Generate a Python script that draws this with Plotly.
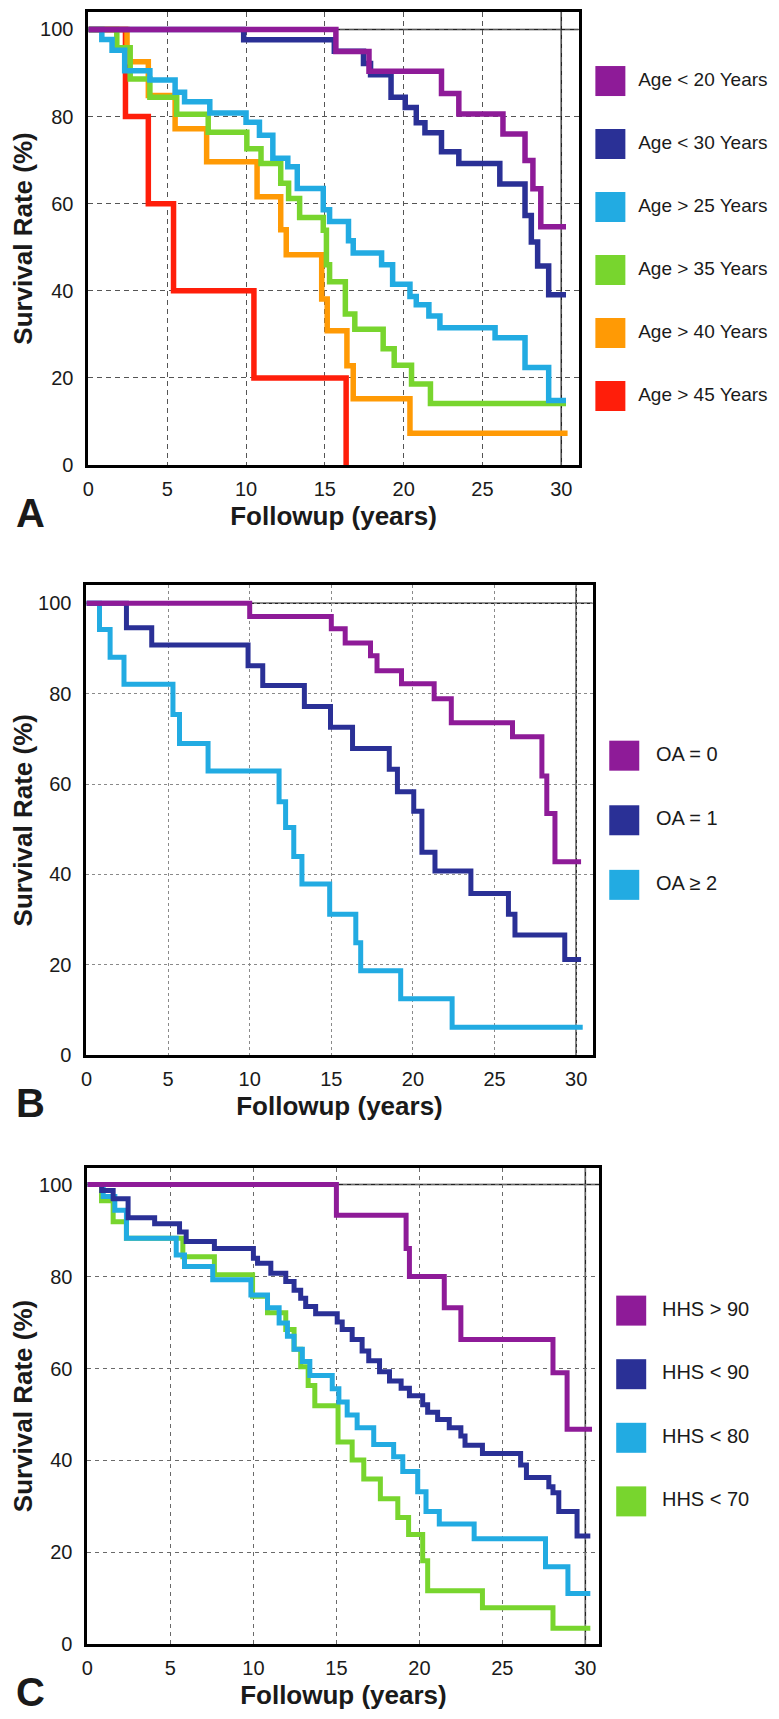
import plotly.graph_objects as go

W, H = 779, 1719
FONT = "Liberation Sans, Arial, sans-serif"
INK = "#1a1a1a"

# ---------------- data: panel A (age groups) ----------------
AGE_LABELS = ["Age < 20 Years", "Age < 30 Years", "Age > 25 Years",
              "Age > 35 Years", "Age > 40 Years", "Age > 45 Years"]

AGE_LT20_T = [0, 15.7, 17.8, 22.4, 23.5, 26.3, 27.7, 28.2, 28.7, 30.3]
AGE_LT20_S = [100, 94.9, 90.4, 85.3, 80.6, 76.0, 69.9, 63.4, 54.7, 54.7]

AGE_LT30_T = [0, 9.85, 15.6, 17.45, 17.9, 19.2, 20.1, 20.8, 21.35, 22.4,
              23.5, 26.1, 27.7, 28.1, 28.5, 29.2, 30.3]
AGE_LT30_S = [100, 97.6, 95.0, 92.2, 89.6, 84.4, 82.1, 78.6, 76.3, 71.9,
              69.2, 64.5, 57.3, 51.2, 45.7, 39.1, 39.1]

AGE_GT25_T = [0, 0.85, 1.5, 2.3, 3.9, 5.5, 6.1, 7.7, 10.0, 10.85, 11.7,
              12.65, 13.25, 14.9, 15.3, 16.5, 16.8, 18.6, 19.3, 20.4, 20.8,
              21.6, 22.3, 25.8, 27.7, 29.2, 30.3]
AGE_GT25_S = [100, 97.7, 95.2, 90.5, 88.4, 85.6, 83.4, 80.8, 78.7, 75.7, 70.4,
              68.5, 63.5, 58.6, 55.9, 51.5, 48.7, 46.0, 41.5, 38.7, 36.8,
              34.2, 31.5, 29.2, 22.4, 14.8, 14.8]

AGE_GT35_T = [0, 1.8, 2.65, 3.9, 5.6, 7.6, 10.05, 10.95, 12.2, 12.7, 13.4,
              14.9, 15.1, 15.3, 16.3, 16.9, 18.7, 19.4, 20.5, 21.7, 30.3]
AGE_GT35_S = [100, 95.8, 88.6, 84.4, 80.5, 76.4, 72.6, 69.2, 64.7, 61.2, 56.8,
              53.9, 46.0, 42.1, 34.7, 31.2, 26.7, 22.9, 18.6, 14.1, 14.1]

AGE_GT40_T = [0, 2.45, 3.8, 5.5, 7.5, 10.7, 12.2, 12.55, 14.8, 15.15, 16.4,
              16.8, 20.4, 30.4]
AGE_GT40_S = [100, 92.6, 84.8, 77.2, 69.6, 61.6, 54.0, 48.3, 38.1, 30.8, 22.8,
              15.2, 7.3, 7.3]

AGE_GT45_T = [0, 2.35, 3.8, 5.4, 10.5, 16.35]
AGE_GT45_S = [100, 80, 60, 40, 20, 0]

# ---------------- data: panel B (OA) ----------------
OA_LABELS = ["OA = 0", "OA = 1", "OA \u2265 2"]

OA0_T = [0, 10.0, 15.0, 15.85, 17.4, 17.8, 19.3, 21.3, 22.35, 26.1, 27.9,
         28.2, 28.7, 30.3]
OA0_S = [100, 97.1, 94.4, 91.2, 88.4, 85.1, 82.2, 78.9, 73.6, 70.5, 61.8,
         53.5, 42.8, 42.8]

OA1_T = [0, 2.45, 4.0, 9.9, 10.8, 13.35, 14.95, 16.3, 18.55, 19.05, 20.05,
         20.55, 21.35, 23.55, 25.85, 26.25, 29.3, 30.3]
OA1_S = [100, 94.6, 90.8, 86.2, 81.8, 77.2, 72.6, 67.9, 63.3, 58.3, 54.0,
         44.9, 40.8, 35.8, 31.2, 26.6, 21.2, 21.2]

OA2_T = [0, 0.8, 1.45, 2.3, 5.3, 5.7, 7.45, 11.8, 12.2, 12.7, 13.2, 14.9,
         16.5, 16.8, 19.25, 22.4, 30.4]
OA2_S = [100, 94.2, 88.1, 82.1, 75.4, 69.0, 62.9, 56.1, 50.4, 44.0, 37.9, 31.2,
         24.9, 18.7, 12.5, 6.2, 6.2]

# ---------------- data: panel C (HHS) ----------------
HHS_LABELS = ["HHS > 90", "HHS < 90", "HHS < 80", "HHS < 70"]

HHS_GT90_T = [0, 15.0, 19.2, 19.4, 21.5, 22.5, 28.05, 28.9, 30.4]
HHS_GT90_S = [100, 93.3, 86.1, 80.0, 73.2, 66.3, 59.1, 46.8, 46.8]

HHS_LT90_T = [0, 0.86, 1.55, 2.45, 4.05, 5.55, 5.95, 7.65, 10.0, 10.25, 11.05,
              11.95, 12.45, 12.85, 13.15, 13.75, 15.05, 15.35, 15.95, 16.55,
              16.95, 17.6, 18.2, 18.9, 19.4, 20.2, 20.5, 21.1, 21.8, 22.5,
              22.75, 23.8, 26.1, 26.45, 27.8, 28.05, 28.4, 29.5, 30.3]
HHS_LT90_S = [100, 98.7, 96.9, 92.8, 91.5, 89.7, 87.6, 86.1, 84.0, 82.9, 80.7,
              78.9, 77.0, 75.3, 73.5, 71.9, 70.1, 68.5, 66.3, 63.8,
              61.7, 59.3, 57.3, 55.7, 54.1, 52.1, 50.5, 48.9, 47.1, 45.3,
              43.3, 41.5, 39.0, 36.3, 34.3, 33.0, 28.9, 23.6, 23.6]

HHS_LT80_T = [0, 0.95, 1.65, 2.35, 5.35, 5.85, 7.55, 9.85, 10.85, 11.55, 12.05,
              12.45, 12.95, 13.4, 14.75, 15.15, 15.65, 16.25, 17.25, 18.45,
              19.0, 19.9, 20.4, 21.2, 23.3, 27.6, 28.95, 30.3]
HHS_LT80_S = [100, 97.4, 94.4, 88.3, 84.7, 82.2, 79.3, 76.0, 73.2, 69.9, 67.0,
              64.2, 61.5, 58.5, 55.6, 52.7, 49.9, 47.1, 43.5, 40.8,
              37.6, 33.2, 28.9, 26.2, 23.0, 16.9, 11.1, 11.1]

HHS_LT70_T = [0, 0.85, 1.55, 2.35, 5.75, 7.65, 9.95, 10.85, 11.95, 12.45,
              12.85, 13.3, 13.7, 15.1, 15.95, 16.65, 17.65, 18.7, 19.35, 20.2,
              20.5, 23.8, 28.05, 30.3]
HHS_LT70_S = [100, 96.5, 91.9, 88.3, 84.3, 80.4, 75.7, 72.1, 68.5, 64.2,
              60.4, 56.3, 51.9, 44.0, 40.1, 36.0, 31.7, 27.6, 23.9, 18.2,
              11.7, 8.0, 3.5, 3.5]

X_TICKS = [0, 5, 10, 15, 20, 25, 30]
Y_TICKS = [0, 20, 40, 60, 80, 100]
REF_YEAR = 30
REF_RATE = 100

PURPLE, NAVY, CYAN, GREEN, ORANGE, RED = (
    "#8e1b98", "#2a3096", "#22abe2", "#78d52e", "#ff9a05", "#ff1e0a")

# panel layout in pixels: plot box (left, right, top, bottom), axis maxima,
# legend square left / text left / item spacing, line width, grid style
PANELS = [
    dict(letter="A", box=(75, 569, 4, 460), xmax=31.1, ymax=104,
         series=[(AGE_LT20_T, AGE_LT20_S), (AGE_LT30_T, AGE_LT30_S),
                 (AGE_GT25_T, AGE_GT25_S), (AGE_GT35_T, AGE_GT35_S),
                 (AGE_GT40_T, AGE_GT40_S), (AGE_GT45_T, AGE_GT45_S)],
         labels=AGE_LABELS, colors=[PURPLE, NAVY, CYAN, GREEN, ORANGE, RED],
         sq_left=586, txt_left=629, step=63.4, lsize=19, lw=5.5,
         grid=("#555555", "5px,4px")),
    dict(letter="B", box=(73, 583, 581, 1054), xmax=31.0, ymax=104,
         series=[(OA0_T, OA0_S), (OA1_T, OA1_S), (OA2_T, OA2_S)],
         labels=OA_LABELS, colors=[PURPLE, NAVY, CYAN],
         sq_left=600, txt_left=647, step=65, lsize=20, lw=5,
         grid=("#8a8a8a", "3px,3px")),
    dict(letter="C", box=(74, 590, 1167, 1647), xmax=30.85, ymax=103.7,
         series=[(HHS_GT90_T, HHS_GT90_S), (HHS_LT90_T, HHS_LT90_S),
                 (HHS_LT80_T, HHS_LT80_S), (HHS_LT70_T, HHS_LT70_S)],
         labels=HHS_LABELS, colors=[PURPLE, NAVY, CYAN, GREEN],
         sq_left=607, txt_left=653, step=64, lsize=20, lw=5,
         grid=("#6a6a6a", "4px,4px")),
]

fig = go.Figure()
layout = {}
annotations = []
shapes = []

for i, p in enumerate(PANELS):
    left, right, top, bottom = p["box"]
    n = len(p["labels"])
    k = i + 1
    ax_id = "" if k == 1 else str(k)
    xa, ya = "x" + ax_id, "y" + ax_id
    dom_x = [left / W, right / W]
    dom_y = [1 - bottom / H, 1 - top / H]

    # survival curves, drawn so that the first group ends on top
    for (t, s), lab, col in reversed(list(zip(p["series"], p["labels"], p["colors"]))):
        fig.add_trace(go.Scatter(
            x=t, y=s, mode="lines", name=lab,
            line=dict(color=col, width=p["lw"], shape="hv"),
            xaxis=xa, yaxis=ya, cliponaxis=False, hoverinfo="skip"))

    gcol, gdash = p["grid"]
    layout["xaxis" + ax_id] = dict(
        domain=dom_x, anchor=ya, range=[0, p["xmax"]], tickvals=X_TICKS,
        showline=True, mirror=True, linewidth=3, linecolor="black",
        showgrid=True, gridcolor=gcol, griddash=gdash, gridwidth=1,
        zeroline=False, ticks="", ticklabelstandoff=4,
        tickfont=dict(family=FONT, size=20, color=INK),
        title=dict(text="<b>Followup (years)</b>", standoff=8,
                   font=dict(family=FONT, size=26, color=INK)))
    layout["yaxis" + ax_id] = dict(
        domain=dom_y, anchor=xa, range=[0, p["ymax"]], tickvals=Y_TICKS,
        showline=True, mirror=True, linewidth=3, linecolor="black",
        showgrid=True, gridcolor=gcol, griddash=gdash, gridwidth=1,
        zeroline=False, ticks="", ticklabelstandoff=8,
        tickfont=dict(family=FONT, size=20, color=INK),
        title=dict(text="<b>Survival Rate (%)</b>", standoff=6,
                   font=dict(family=FONT, size=26, color=INK)))

    # thin reference lines at 100 % and 30 years
    shapes.append(dict(type="line", xref=xa + " domain", yref=ya, x0=0, x1=1,
                       y0=REF_RATE, y1=REF_RATE, line=dict(color="#222", width=1.5),
                       layer="below"))
    shapes.append(dict(type="line", xref=xa, yref=ya + " domain", x0=REF_YEAR,
                       x1=REF_YEAR, y0=0, y1=1, line=dict(color="#222", width=1.5),
                       layer="below"))

    # legend drawn on its own hidden axis pair: squares + labels
    lk = k + 3
    lx, ly = "x" + str(lk), "y" + str(lk)
    sq_c = p["sq_left"] + 15
    span = (bottom - top) / p["step"]
    mid = (n - 1) / 2
    layout["xaxis" + str(lk)] = dict(domain=[sq_c / W, 1], anchor=ly, range=[0, 1],
                                     visible=False, fixedrange=True)
    layout["yaxis" + str(lk)] = dict(domain=dom_y, anchor=lx,
                                     range=[mid + span / 2, mid - span / 2],
                                     visible=False, fixedrange=True)
    idx = list(range(n))
    fig.add_trace(go.Scatter(
        x=[0] * n, y=idx, mode="markers", xaxis=lx, yaxis=ly, cliponaxis=False,
        marker=dict(symbol="square", size=30, color=p["colors"], line=dict(width=0)),
        hoverinfo="skip"))
    fig.add_trace(go.Scatter(
        x=[(p["txt_left"] - sq_c) / (W - sq_c)] * n, y=idx, mode="text",
        text=p["labels"], textposition="middle right", xaxis=lx, yaxis=ly,
        cliponaxis=False, textfont=dict(family=FONT, size=p["lsize"], color=INK),
        hoverinfo="skip"))

    annotations.append(dict(
        text="<b>%s</b>" % p["letter"], xref="paper", yref="paper", x=0,
        y=1 - (bottom + 48) / H, xanchor="left", yanchor="middle", showarrow=False,
        font=dict(family=FONT, size=40, color=INK)))

fig.update_layout(
    width=W, height=H, margin=dict(l=0, r=0, t=0, b=0),
    paper_bgcolor="white", plot_bgcolor="white", showlegend=False,
    annotations=annotations, shapes=shapes, **layout)

fig.write_html("out.html")
